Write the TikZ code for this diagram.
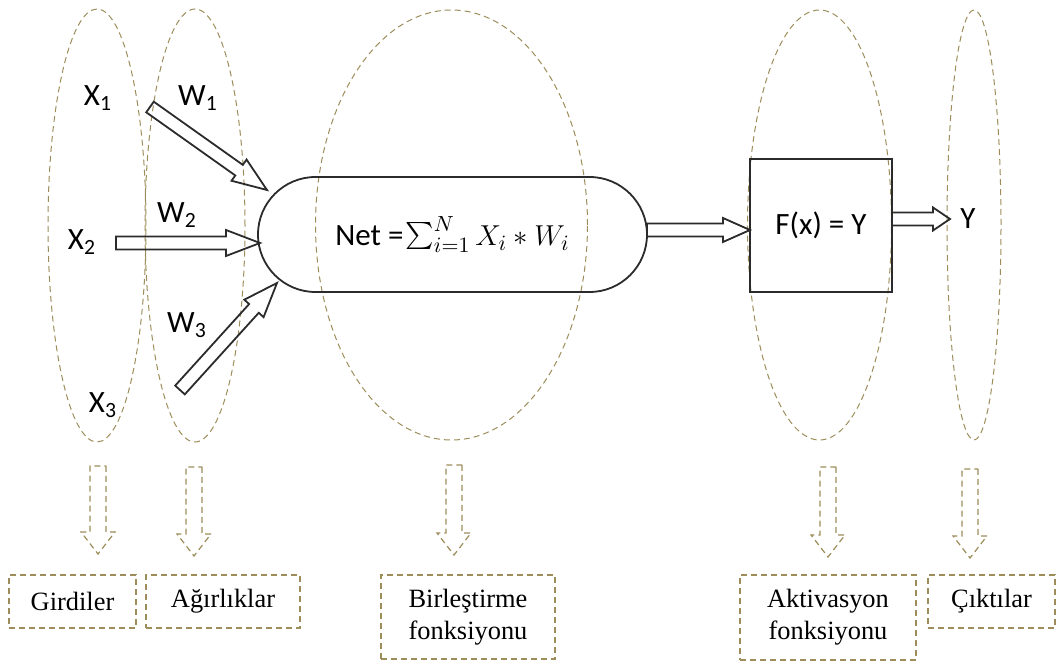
\documentclass[tikz,border=0pt]{standalone}
\usepackage{fontspec}
\usepackage{graphicx}
\setmainfont{Liberation Serif}
\newfontfamily\calibFont{Carlito}
\usetikzlibrary{calc,shapes.geometric,shapes.misc}
\definecolor{annOlive}{HTML}{9C8D5A}
\definecolor{lineGray}{HTML}{2B2B2B}

\tikzset{
  arr shaft/.store in=\arrShaft, arr head/.store in=\arrHead, arr len/.store in=\arrLen,
  arr shaft=3.25pt, arr head=6.5pt, arr len=17pt,
  fatArr/.style={draw=lineGray, line width=0.9pt, line join=miter},
  dashArr/.style={draw=annOlive, dash pattern=on 3pt off 2pt, line width=0.6pt,
    arr shaft=4pt, arr head=8.5pt, arr len=11pt},
  group/.style={ellipse, draw=annOlive, dash pattern=on 3pt off 2pt, line width=0.5pt, inner sep=0pt},
  capBox/.style={draw=annOlive, dash pattern=on 3pt off 2pt, line width=0.6pt, align=center,
    inner sep=0pt, font=\fontsize{13.2}{16}\selectfont},
  sym/.style={font=\calibFont\fontsize{15.5}{18}\selectfont}
}

% hollow arrow from #2 to #3
\newcommand{\fatArrow}[3][]{%
  \draw[fatArr,#1] let \p1=($(#3)-(#2)$), \n1={atan2(\y1,\x1)}, \n2={veclen(\x1,\y1)} in
    ($(#2)+({\n1+90}:\arrShaft)$) -- ++({\n1}:{\n2-\arrLen}) -- ++({\n1+90}:{\arrHead-\arrShaft})
    -- (#3) -- ($(#2)+({\n1}:{\n2-\arrLen})+({\n1-90}:\arrHead)$)
    -- ++({\n1+90}:{\arrHead-\arrShaft}) -- ($(#2)+({\n1-90}:\arrShaft)$) -- cycle;}

\begin{document}
\begin{tikzpicture}[x=0.5pt, y=-0.5pt]
  \useasboundingbox (0,0) rectangle (1061,662);

  % groups
  \node[group, minimum width=49pt, minimum height=216.5pt] (gIn) at (97,225.5) {};
  \node[group, minimum width=50pt, minimum height=216.5pt] (gWt) at (195,225.5) {};
  \node[group, minimum width=136pt, minimum height=215pt] (gSum) at (451.5,225) {};
  \node[group, minimum width=72pt, minimum height=215pt] (gAct) at (819.5,225) {};
  \node[group, minimum width=27pt, minimum height=215pt] (gOut) at (974,225) {};

  % neuron
  \node[rounded rectangle, draw=lineGray, line width=0.9pt, minimum width=194.5pt,
    minimum height=57.5pt, inner sep=0pt, sym] (net) at (452.5,234.5)
    {Net =\kern1pt$\mathop{\scalebox{1.35}{$\sum$}}\nolimits_{i=1}^{N} X_i * W_i$};
  \node[draw=lineGray, line width=0.9pt, minimum width=71pt, minimum height=66.5pt, sym]
    (act) at (821,225.5) {F(x) = Y};

  \node[sym] (x1) at (98,98) {X\textsubscript{1}};
  \node[sym] (x2) at (82,242) {X\textsubscript{2}};
  \node[sym] (x3) at (103,405) {X\textsubscript{3}};
  \node[sym] (w1) at (198,98) {W\textsubscript{1}};
  \node[sym] (w2) at (177,215) {W\textsubscript{2}};
  \node[sym] (w3) at (187,325) {W\textsubscript{3}};
  \node[sym] (yOut) at (968,219) {Y};

  \coordinate (w1s) at (150,107);  \coordinate (w1e) at (267,190);
  \coordinate (w2s) at (116,243);  \coordinate (w2e) at (260,243);
  \coordinate (w3s) at (180,390);  \coordinate (w3e) at (277,283);
  \coordinate (netOut) at (647,230); \coordinate (actIn) at (750,230);
  \coordinate (actOut) at (892,219); \coordinate (yIn) at (950,219);

  \fatArrow{w1s}{w1e}
  \fatArrow{w2s}{w2e}
  \fatArrow{w3s}{w3e}
  \fatArrow[arr head=6pt, arr len=13.5pt]{netOut}{actIn}
  \fatArrow[arr head=5.75pt, arr len=8.5pt]{actOut}{yIn}

  % captions
  \node[capBox, minimum width=63.5pt, minimum height=26.5pt] (cIn) at (72.5,601.5) {Girdiler};
  \node[capBox, minimum width=77pt, minimum height=26.5pt] (cWt) at (223,601.5) {Ağırlıklar};
  \node[capBox, minimum width=87pt, minimum height=42pt] (cSum) at (468,617) {Birleştirme\\fonksiyonu};
  \node[capBox, minimum width=88pt, minimum height=42.5pt] (cAct) at (828,617.5) {Aktivasyon\\fonksiyonu};
  \node[capBox, minimum width=63.5pt, minimum height=26.5pt] (cOut) at (991.5,601.5) {Çıktılar};

  \coordinate (dIn1) at (98,466);  \coordinate (dIn2) at (98,554);
  \coordinate (dWt1) at (194,467); \coordinate (dWt2) at (194,556);
  \coordinate (dSum1) at (454,465); \coordinate (dSum2) at (454,555);
  \coordinate (dAct1) at (828,467); \coordinate (dAct2) at (828,557);
  \coordinate (dOut1) at (970,469); \coordinate (dOut2) at (970,558);

  \fatArrow[dashArr]{dIn1}{dIn2}
  \fatArrow[dashArr]{dWt1}{dWt2}
  \fatArrow[dashArr]{dSum1}{dSum2}
  \fatArrow[dashArr]{dAct1}{dAct2}
  \fatArrow[dashArr]{dOut1}{dOut2}
\end{tikzpicture}
\end{document}
